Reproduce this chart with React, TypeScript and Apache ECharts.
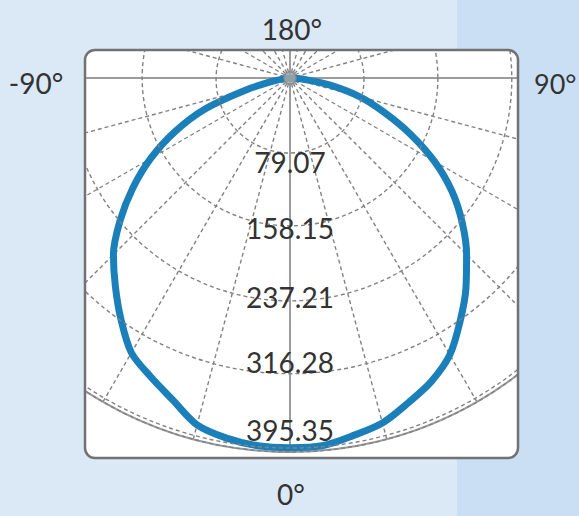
import React, { useEffect, useRef } from "react";
import * as echarts from "echarts";

// Photometric angles (0° = down, +90° = right, -90° = left)
const angleDeg = [
  -90, -85, -80, -75, -70, -65, -60, -55, -50, -45, -40, -35, -30, -25, -20, -15, -10, -5,
  0, 5, 10, 15, 20, 25, 30, 35, 40, 45, 50, 55, 60, 65, 70, 75, 80, 85, 90,
];
// Luminous intensity
const intensity = [
  0, 3.2, 16, 48.1, 96.2, 135.7, 172, 205.2, 237.2, 267.1, 290.6, 315.2, 339.3, 352.6, 366.5, 384.1, 391.1, 394.8,
  395.35, 394.8, 388.4, 382, 369.7, 358, 341.9, 317.3, 292.8, 267.1, 240.4, 211.6, 178.4, 142.1, 106.9, 76.9, 42.7, 12.8, 0,
];
const ringStep = 79.07;
const ringLabels = ["79.07", "158.15", "237.21", "316.28", "395.35"];
const angleLabels = ["180°", "-90°", "90°", "0°"];

const LIGHT = "#dbe8f6";
const DARK = "#cadff3";
const FONT = 'Lato, "Noto Sans", sans-serif';

let registered = false;
function registerShapes() {
  if (registered) return;
  registered = true;
  echarts.graphic.registerShape(
    "cornerMask",
    echarts.graphic.extendPath("M0 0 L10 0 A10 10 0 0 0 0 10 Z", {})
  );
}

export default function App() {
  const ref = useRef<HTMLDivElement>(null);

  useEffect(() => {
    if (!ref.current) return;
    registerShapes();
    const chart = echarts.init(ref.current, null, { renderer: "svg" });

    const dashed = { color: "#828282", width: 1.4, type: [4, 3] as any };
    const data = angleDeg.map((a, i) => [intensity[i], (a + 360) % 360]);
    const labelFont = { fontSize: 28, fontFamily: FONT, color: "#333333" };

    chart.setOption({
      animation: false,
      backgroundColor: "transparent",
      polar: [
        { center: [290, 78], radius: 374 },
        { center: [290, 78], radius: 374 },
      ],
      angleAxis: [
        {
          polarIndex: 0,
          type: "value",
          min: 0,
          max: 360,
          interval: 15,
          startAngle: 270,
          clockwise: false,
          axisLine: { show: true, lineStyle: { color: "#9a9a9a", width: 2 } },
          axisTick: { show: false },
          axisLabel: { show: false },
          splitLine: { show: true, lineStyle: dashed },
        },
        {
          polarIndex: 1,
          type: "value",
          min: 0,
          max: 360,
          interval: 90,
          startAngle: 270,
          clockwise: false,
          axisLine: { show: false },
          axisTick: { show: false },
          axisLabel: { show: false },
          splitLine: { show: true, lineStyle: { color: "#9c9c9c", width: 2 } },
        },
      ],
      radiusAxis: [
        {
          polarIndex: 0,
          type: "value",
          min: 0,
          max: 400,
          interval: ringStep,
          axisLine: { show: false },
          axisTick: { show: false },
          splitLine: { show: true, lineStyle: dashed },
          axisLabel: {
            show: true,
            showMinLabel: false,
            showMaxLabel: false,
            margin: 0,
            align: "center",
            verticalAlign: "middle",
            ...labelFont,
            formatter: (v: number) => {
              const k = Math.round(v / ringStep);
              const t = ringLabels[k - 1];
              return t ? `{l${k}|${t}}` : "";
            },
            rich: {
              l1: { ...labelFont, padding: [20, 0, 0, 0] },
              l2: { ...labelFont, padding: [4, 0, 0, 0] },
              l3: { ...labelFont, padding: [0, 0, 6, 0] },
              l4: { ...labelFont, padding: [0, 0, 24, 0] },
              l5: { ...labelFont, padding: [0, 0, 36, 0] },
            },
          },
          z: 10,
        },
        {
          polarIndex: 1,
          type: "value",
          min: 0,
          max: 400,
          axisLine: { show: false },
          axisTick: { show: false },
          axisLabel: { show: false },
          splitLine: { show: false },
        },
      ],
      series: [
        {
          type: "line",
          coordinateSystem: "polar",
          polarIndex: 0,
          data,
          showSymbol: false,
          symbol: "none",
          smooth: 0.3,
          lineStyle: { color: "#1b80b9", width: 7 },
          z: 5,
        },
        {
          type: "scatter",
          coordinateSystem: "polar",
          polarIndex: 0,
          data: [[0, 0]],
          symbolSize: 12,
          itemStyle: { color: "#a9a9a9", borderColor: "#8a8a8a", borderWidth: 1.5 },
          z: 6,
        },
      ],
      graphic: {
        elements: [
          {
            type: "rect",
            z: -100,
            shape: { x: 85, y: 50, width: 433, height: 408, r: 10 },
            style: { fill: "#ffffff" },
          },
          { type: "rect", z: 100, shape: { x: 0, y: 0, width: 457, height: 50 }, style: { fill: LIGHT } },
          { type: "rect", z: 100, shape: { x: 457, y: 0, width: 122, height: 50 }, style: { fill: DARK } },
          { type: "rect", z: 100, shape: { x: 0, y: 458, width: 457, height: 58 }, style: { fill: LIGHT } },
          { type: "rect", z: 100, shape: { x: 457, y: 458, width: 122, height: 58 }, style: { fill: DARK } },
          { type: "rect", z: 100, shape: { x: 0, y: 49, width: 85, height: 410 }, style: { fill: LIGHT } },
          { type: "rect", z: 100, shape: { x: 518, y: 49, width: 61, height: 410 }, style: { fill: DARK } },
          { type: "cornerMask", z: 100, x: 85, y: 50, style: { fill: LIGHT } },
          { type: "cornerMask", z: 100, x: 518, y: 50, scaleX: -1, style: { fill: DARK } },
          { type: "cornerMask", z: 100, x: 85, y: 458, scaleY: -1, style: { fill: LIGHT } },
          { type: "cornerMask", z: 100, x: 518, y: 458, scaleX: -1, scaleY: -1, style: { fill: DARK } },
          {
            type: "rect",
            z: 101,
            shape: { x: 85, y: 50, width: 433, height: 408, r: 10 },
            style: { fill: "none", stroke: "#727272", lineWidth: 2.5 },
          },
          {
            type: "text",
            z: 102,
            x: 292,
            y: 29,
            style: { text: angleLabels[0], align: "center", verticalAlign: "middle", fontSize: 28, fontFamily: FONT, fill: "#333" },
          },
          {
            type: "text",
            z: 102,
            x: 36,
            y: 83,
            style: { text: angleLabels[1], align: "center", verticalAlign: "middle", fontSize: 28, fontFamily: FONT, fill: "#333" },
          },
          {
            type: "text",
            z: 102,
            x: 534,
            y: 83,
            style: { text: angleLabels[2], align: "left", verticalAlign: "middle", fontSize: 27, fontFamily: FONT, fill: "#333" },
          },
          {
            type: "text",
            z: 102,
            x: 291,
            y: 494,
            style: { text: angleLabels[3], align: "center", verticalAlign: "middle", fontSize: 28, fontFamily: FONT, fill: "#333" },
          },
        ],
      },
    });

    return () => chart.dispose();
  }, []);

  return (
    <div
      ref={ref}
      style={{
        position: "fixed",
        left: 0,
        top: 0,
        width: 579,
        height: 516,
        background: `linear-gradient(to right, ${LIGHT} 457px, ${DARK} 457px)`,
      }}
    />
  );
}
